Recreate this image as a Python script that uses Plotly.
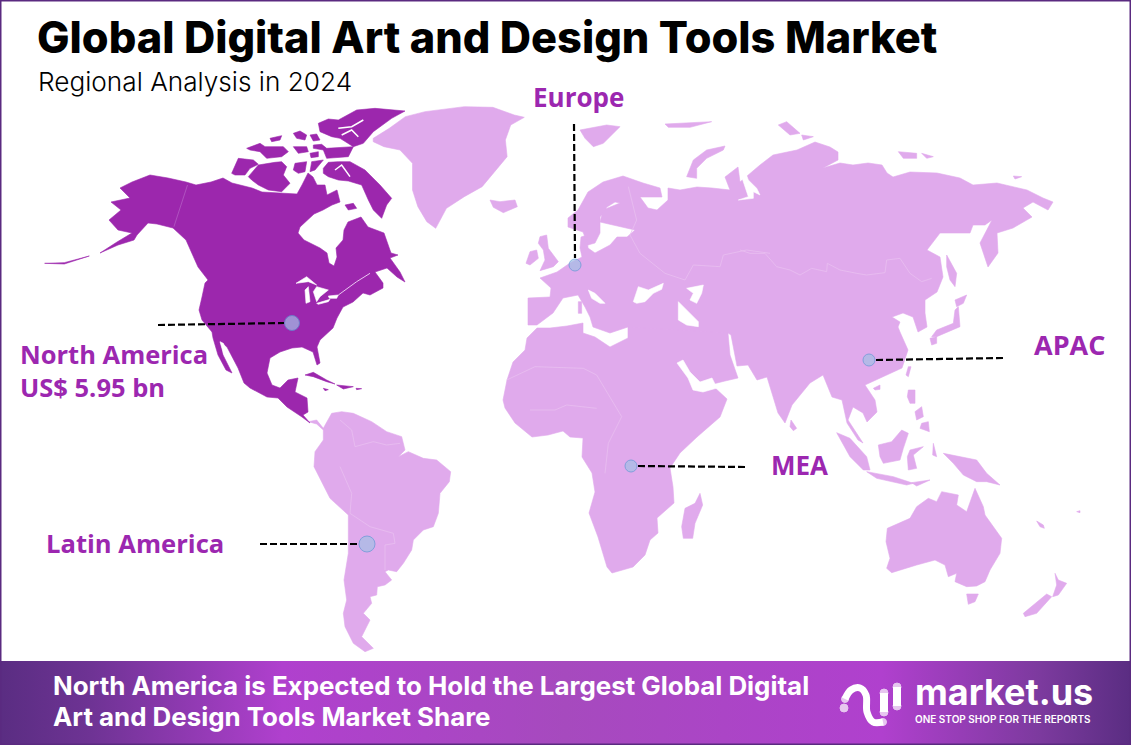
import plotly.graph_objects as go

# Page pixels are the map coordinates: x 0-1131, y 0-745 going down
WIDTH = 1131
HEIGHT = 745

DARK = "#9C27AD"
LIGHT = "#E0AAEC"
BORDER = "#5A2A80"
LABEL = "#9C27B0"

# ----- regions -----
NORTH_AMERICA = [
    (120, 188), (132, 182), (150, 175), (168, 178), (186, 182), (196, 185), (211, 182), (223, 178),
    (232, 183), (252, 188), (262, 192), (282, 193), (297, 194), (302, 185), (308, 173), (313, 177),
    (317, 185), (325, 185), (327, 195), (337, 190), (338, 195), (340, 202), (332, 205), (323, 210),
    (314, 214), (300, 227), (298, 233), (304, 240), (320, 248), (327, 253), (329, 263),
    (334, 266), (337, 257), (336, 248), (343, 240), (344, 230), (348, 222), (361, 217), (368, 227),
    (384, 233), (391, 253), (398, 255), (390, 258), (400, 272), (405, 282), (397, 277), (387, 268),
    (375, 272), (383, 283), (383, 288), (370, 295), (363, 293), (353, 302), (343, 307), (337, 318),
    (333, 328), (320, 340), (317, 347), (320, 363), (317, 365), (313, 352), (302, 347), (292, 348),
    (280, 352), (270, 358), (267, 373), (272, 385), (280, 388), (288, 380), (298, 378), (295, 392),
    (307, 398), (308, 412), (303, 415), (310, 423), (302, 417), (287, 407), (278, 398), (267, 397),
    (250, 388), (244, 383), (238, 368), (227, 347), (221, 342), (223, 355), (232, 373), (226, 370),
    (218, 355), (213, 338), (212, 332), (202, 320), (199, 310), (202, 297), (205, 283), (208, 280),
    (198, 267), (186, 240), (173, 228), (157, 224), (148, 223), (137, 235), (134, 240), (118, 245),
    (100, 253), (117, 242), (132, 233), (118, 230), (109, 220), (121, 210), (111, 202), (130, 198),
]

# traced on the Arctic crop, 3x from (225, 105)
ARCTIC_ISLANDS = [
    [(340, 45), (395, 15), (450, 10), (540, 18), (500, 40), (445, 80), (415, 115), (385, 125), (345, 100), (320, 95),
     (285, 80), (280, 55), (310, 42)],
    [(265, 120), (290, 118), (305, 130), (385, 125), (370, 155), (305, 160), (295, 135), (265, 130)],
    [(205, 85), (225, 78), (245, 90), (240, 105), (215, 100)],
    [(255, 90), (275, 87), (285, 105), (265, 108)],
    [(135, 100), (170, 92), (165, 105), (140, 110)],
    [(65, 130), (105, 115), (120, 125), (150, 125), (175, 125), (190, 140), (170, 155), (125, 160), (105, 140), (75, 135)],
    [(205, 125), (245, 125), (250, 140), (220, 145)],
    [(255, 145), (280, 140), (280, 155), (258, 158)],
    [(20, 205), (40, 160), (85, 165), (100, 178), (75, 190), (60, 210), (30, 210)],
    [(70, 215), (100, 180), (150, 172), (170, 170), (185, 185), (175, 210), (195, 235), (170, 260), (130, 255), (100, 240),
     (80, 225)],
    [(205, 195), (210, 175), (245, 170), (240, 200), (220, 205)],
    [(260, 170), (295, 165), (270, 195), (255, 200)],
    [(295, 190), (310, 172), (340, 170), (375, 170), (420, 195), (465, 240), (500, 280), (485, 300), (470, 340), (445, 315),
     (430, 285), (410, 240), (370, 228), (340, 225), (310, 215), (295, 205)],
    [(360, 300), (385, 295), (395, 310), (370, 315)],
]
ARCTIC_CHANNELS = [
    [(340, 70), (380, 65), (415, 45)],
    [(350, 90), (380, 75), (400, 95)],
    [(330, 195), (350, 180), (375, 215)],
]
ALEUTIANS = [(125, 790), (180, 788), (250, 768), (180, 792)]
# traced on the first crop, which came back 2.8x wide and 3x high
GREENLAND = [
    (1045, 415), (1090, 385), (1135, 350), (1190, 335), (1300, 320), (1380, 322), (1440, 345), (1468, 352),
    (1430, 375), (1415, 420), (1420, 470), (1390, 510), (1350, 560), (1300, 590), (1250, 625), (1220, 685),
    (1195, 665), (1170, 620), (1155, 570), (1155, 490), (1120, 450), (1075, 440), (1045, 425),
]
CARIBBEAN = [
    [(405, 405), (430, 397), (470, 420), (495, 432), (470, 425), (430, 410)],
    [(500, 435), (550, 440), (520, 447)],
    [(460, 445), (475, 449), (465, 452)],
    [(558, 445), (575, 446), (560, 449)],
]
SOUTH_AMERICA = [
    (55, 65), (80, 60), (100, 85), (125, 40), (155, 35), (190, 40), (245, 65), (290, 95), (335, 110), (345, 150),
    (325, 170), (355, 155), (400, 175), (440, 180), (482, 215), (478, 245), (450, 280), (445, 340), (430, 380),
    (400, 390), (370, 420), (365, 450), (340, 490), (320, 515), (295, 510), (285, 515), (305, 540), (285, 555),
    (262, 560), (260, 585), (240, 590), (245, 610), (220, 640), (240, 660), (215, 710), (250, 745), (225, 755),
    (190, 730), (165, 680), (160, 640), (170, 600), (162, 540), (175, 460), (175, 345), (120, 295), (85, 225),
    (72, 200), (75, 155), (100, 120), (100, 90), (80, 72),
]
EURASIA = [
    (528, 325), (528, 298), (550, 297), (551, 288), (540, 278), (557, 272), (570, 263), (582, 257), (580, 248),
    (581, 237), (587, 235), (588, 248), (595, 253), (610, 245), (617, 237), (627, 237), (635, 230), (620, 227),
    (613, 225), (600, 222), (603, 210), (620, 203), (615, 202), (607, 207), (600, 217), (600, 233), (595, 243),
    (588, 245), (583, 232), (568, 227), (568, 218), (578, 210), (588, 192), (603, 182), (623, 176), (643, 183),
    (660, 188), (662, 197), (640, 197), (648, 208), (657, 210), (668, 200), (668, 188), (680, 190), (697, 187),
    (712, 188), (730, 190), (725, 177),
    (738, 167), (740, 182), (760, 165), (773, 155), (797, 150), (815, 142), (830, 147), (838, 152), (838, 160),
    (823, 168), (840, 163), (853, 165), (868, 163), (882, 165), (887, 173), (893, 177), (910, 172), (937, 173),
    (960, 178), (973, 185), (997, 183), (1027, 190), (1043, 198), (1053, 202), (1048, 210), (1033, 202),
    (1023, 208), (1032, 217), (1013, 228), (997, 233), (998, 253), (988, 267), (980, 243), (992, 220), (985, 225),
    (973, 225), (970, 233), (940, 233), (927, 250), (940, 257), (943, 277), (937, 292), (925, 300), (925, 313),
    (927, 327), (918, 332), (913, 317), (903, 313), (892, 317), (900, 322), (898, 327), (900, 332), (908, 350),
    (902, 368), (887, 375), (873, 382), (865, 385), (875, 400), (877, 412), (867, 422), (863, 413), (853, 407),
    (848, 420), (863, 443), (858, 440), (847, 423), (842, 400), (832, 397), (823, 375), (810, 383), (792, 405),
    (785, 423), (778, 413), (767, 377), (757, 380), (748, 365), (737, 366), (731, 335), (728, 333), (628, 327),
    (610, 333), (593, 327), (590, 317), (585, 307), (578, 295), (563, 298), (557, 307), (553, 313), (537, 325),
]
AFRICA_ARABIA = [
    (537, 328), (550, 328), (567, 326), (583, 323), (583, 333), (595, 337), (610, 347), (628, 338),
    (628, 327), (728, 333), (730, 355), (738, 378), (725, 381), (713, 384), (713, 386), (727, 399),
    (720, 417), (708, 427), (697, 437), (680, 453), (670, 468), (673, 487), (674, 503), (657, 518), (658, 533),
    (650, 540), (645, 555), (633, 567), (612, 573), (607, 567), (598, 537), (589, 513), (595, 492), (592, 473),
    (582, 457), (583, 438), (570, 437), (563, 431), (548, 435), (532, 437), (515, 423), (505, 408), (503, 400),
    (507, 380), (513, 362), (525, 350), (527, 338),
]
# traced on the close Europe crop, 3x from (520, 170)
EUROPE_ISLANDS = [
    [(60, 200), (80, 195), (85, 235), (115, 275), (100, 290), (60, 302), (75, 270), (70, 240), (55, 220)],
    [(18, 280), (30, 245), (50, 240), (55, 265), (30, 285)],
    [(175, 395), (185, 395), (185, 430), (175, 430)],
]
# traced on the wider Europe crop, 3x from (490, 120)
NORTH_ATLANTIC_ISLANDS = [
    [(0, 240), (30, 245), (75, 240), (82, 260), (40, 278), (10, 262)],
    [(270, 30), (300, 25), (350, 15), (390, 20), (370, 40), (340, 70), (310, 80), (285, 55)],
    [(525, 12), (590, 8), (665, 5), (600, 22), (535, 22)],
    [(590, 170), (610, 120), (650, 90), (705, 78), (700, 90), (650, 115), (620, 145), (620, 175)],
]
# traced on the north Asia crop, 3x from (740, 110)
NORTH_ASIA_ISLANDS = [
    [(620, 435), (650, 490), (645, 530), (630, 510), (620, 470)],
    [(645, 570), (680, 555), (670, 580), (650, 590)],
    [(655, 590), (660, 650), (590, 680), (575, 680), (590, 660), (640, 640), (645, 600)],
    [(570, 685), (590, 680), (590, 700), (575, 705)],
    [(475, 125), (530, 130), (530, 145), (490, 145)],
    [(545, 130), (580, 140), (560, 145)],
    [(115, 45), (140, 35), (180, 70), (150, 75)],
    [(185, 75), (220, 80), (190, 90)],
    [(820, 198), (845, 200), (825, 207)],
]
# traced on the south east Asia crop, 3x from (710, 300)
SOUTH_ASIA_ISLANDS = [
    [(490, 265), (510, 255), (510, 268), (495, 270)],
    [(595, 200), (603, 200), (595, 230), (588, 225)],
    [(595, 270), (615, 270), (615, 310), (600, 310), (592, 290)],
    [(615, 335), (635, 320), (640, 350), (620, 360)],
    [(635, 370), (655, 365), (658, 395), (630, 385)],
    [(505, 435), (545, 425), (575, 390), (595, 400), (580, 445), (570, 480), (520, 490), (510, 470)],
    [(380, 398), (420, 415), (470, 470), (480, 510), (460, 510), (420, 470)],
    [(470, 515), (550, 530), (610, 550), (590, 555), (500, 535)],
    [(605, 548), (660, 540), (620, 558)],
    [(600, 450), (640, 440), (610, 465), (620, 505), (595, 510), (592, 470)],
    [(670, 430), (680, 470), (668, 465)],
    [(700, 460), (725, 465), (760, 470), (800, 480), (830, 520), (870, 555), (830, 545), (800, 545), (760, 525),
     (730, 490)],
    [(243, 360), (260, 385), (250, 392), (240, 380)],
]
# traced on the Oceania crop, 3x from (860, 470)
OCEANIA = [
    [(78, 215), (82, 175), (150, 145), (170, 110), (205, 85), (230, 95), (245, 65), (295, 75), (290, 105), (320, 125),
     (345, 55), (370, 110), (375, 135), (405, 175), (425, 205), (420, 250), (390, 300), (375, 335), (350, 348),
     (320, 350), (285, 335), (290, 310), (265, 320), (255, 285), (225, 270), (170, 285), (120, 300), (95, 308),
     (80, 295), (90, 265)],
    [(320, 372), (355, 372), (345, 395), (325, 403)],
    [(585, 310), (595, 330), (620, 340), (595, 375), (578, 380), (590, 345)],
    [(560, 372), (575, 380), (530, 430), (495, 440), (490, 430)],
    [(530, 153), (550, 165), (553, 175), (540, 170)],
    [(650, 125), (660, 122), (660, 128)],
]
MADAGASCAR = [(630, 550), (638, 585), (615, 640), (608, 685), (580, 685), (575, 650), (585, 595), (615, 580)]

# water that sits inside the land shapes
GREAT_LAKES = [
    [(378, 130), (410, 110), (440, 135), (415, 125)],
    [(405, 150), (415, 140), (420, 185), (408, 190)],
    [(440, 140), (475, 150), (450, 170), (440, 185), (430, 155)],
    [(440, 190), (480, 178), (475, 185), (445, 193)],
    [(475, 168), (505, 165), (500, 175), (478, 175)],
]
GULF_CALIFORNIA = [(150, 305), (160, 310), (178, 350), (190, 392), (183, 375), (160, 340)]
CLOSE_EUROPE_WATER = [
    [(205, 360), (225, 370), (255, 400), (240, 400), (215, 385)],
    [(340, 395), (355, 350), (385, 360), (430, 340), (425, 358), (400, 370), (375, 395), (350, 400)],
]
INLAND_SEAS = [
    [(565, 545), (590, 570), (625, 605), (625, 620), (590, 615), (565, 600)],
    [(590, 505), (640, 495), (635, 520), (620, 550), (600, 540), (610, 520)],
    [(745, 240), (775, 230), (755, 170), (750, 140), (760, 140), (775, 180), (800, 205), (810, 225), (790, 215),
     (790, 235)],
]
RED_SEA = [(677, 363), (683, 360), (690, 372), (700, 382), (712, 378), (717, 388), (703, 392), (693, 390), (688, 378)]

# pale country lines
RUSSIA_LINE = [
    (0, 420), (30, 430), (75, 430), (110, 470), (150, 480), (180, 495), (215, 475), (260, 485), (262, 460), (300, 480),
    (350, 490), (380, 495), (435, 488), (440, 450), (480, 445), (510, 490), (545, 515), (575, 505),
]
WEST_RUSSIA_LINE = [(415, 200), (440, 300), (420, 345), (450, 400), (525, 460), (585, 480), (610, 435), (690, 440),
                    (700, 405), (770, 390), (840, 400)]
ANDES_LINE = [(150, 200), (185, 280), (180, 340), (240, 380), (310, 400), (315, 430), (285, 435), (285, 510)]
AMAZON_LINE = [(150, 60), (185, 90), (195, 140), (250, 125), (290, 135), (330, 130)]
SAHARA_LINE = [(50, 210), (135, 170), (280, 175), (320, 195), (395, 320), (355, 400), (345, 490)]
SAHEL_LINE = [(120, 300), (195, 300), (230, 285), (320, 295)]
ALASKA_LINE = [(525, 555), (487, 680)]
ST_LAWRENCE = [(505, 165), (560, 125), (600, 100)]

# ----- callouts -----
REGIONS = ["North America", "Europe", "APAC", "MEA", "Latin America"]
DOT_X = [292, 575, 869, 631, 367]
DOT_Y = [323, 265, 360, 466, 544]
DOT_SIZE = [15, 12, 12, 12, 16]
LEADER_X = [[158, 284], [574, 575], [876, 1003], [638, 746], [260, 359]]
LEADER_Y = [[325, 323], [124, 258], [360, 358], [466, 467], [544, 544]]

TITLE = "Global Digital Art and Design Tools Market"
SUBTITLE = "Regional Analysis in 2024"
FOOTER_TEXT = "North America is Expected to Hold the Largest Global Digital"
FOOTER_TEXT_2 = "Art and Design Tools Market Share"


def from_crop(points, x0, y0, sx=3.0, sy=3.0):
    # crops were read at their own scale, bring them back to page pixels
    return [(x0 + x / sx, y0 + y / sy) for x, y in points]


def add_shapes(fig, polys, color, fill=True, width=0.6):
    xs, ys = [], []
    for poly in polys:
        pts = list(poly)
        if fill:
            pts.append(pts[0])
        xs += [p[0] for p in pts] + [None]
        ys += [p[1] for p in pts] + [None]
    fig.add_trace(go.Scatter(
        x=xs, y=ys, mode="lines", line=dict(color=color, width=width),
        fill="toself" if fill else None, fillcolor=color if fill else None, hoverinfo="skip",
    ))


def add_label(fig, x, y, text, size, color, weight=700, family="Open Sans"):
    fig.add_annotation(
        x=x, y=y, text=text, showarrow=False, xanchor="left", yanchor="middle", align="left",
        font=dict(family=family, size=size, color=color, weight=weight),
    )


fig = go.Figure()

# footer band
fig.add_trace(go.Scatter(
    x=[0, WIDTH, WIDTH, 0, 0], y=[661, 661, HEIGHT, HEIGHT, 661], mode="lines", line=dict(width=0),
    fill="toself", hoverinfo="skip",
    fillgradient=dict(type="horizontal", colorscale=[
        [0.0, "#5A2D82"], [0.08, "#6E3394"], [0.25, "#B040CE"], [0.5, "#A64ABE"], [0.78, "#B040CE"],
        [0.92, "#7C3A9E"], [1.0, "#5A2D82"],
    ]),
))

light = [from_crop(GREENLAND, 0, 0, sx=2.8), EURASIA, AFRICA_ARABIA,
         from_crop(SOUTH_AMERICA, 290, 400), from_crop(MADAGASCAR, 490, 310)]
light += [from_crop(p, 520, 170) for p in EUROPE_ISLANDS]
light += [from_crop(p, 490, 120) for p in NORTH_ATLANTIC_ISLANDS]
light += [from_crop(p, 740, 110) for p in NORTH_ASIA_ISLANDS]
light += [from_crop(p, 710, 300) for p in SOUTH_ASIA_ISLANDS]
light += [from_crop(p, 860, 470) for p in OCEANIA]
add_shapes(fig, light, LIGHT)

dark = [NORTH_AMERICA, from_crop(ALEUTIANS, 0, 0, sx=2.8)]
dark += [from_crop(p, 225, 105) for p in ARCTIC_ISLANDS]
dark += [from_crop(p, 170, 240) for p in CARIBBEAN]
add_shapes(fig, dark, DARK)

water = [from_crop(p, 170, 240) for p in GREAT_LAKES]
water += [from_crop(GULF_CALIFORNIA, 170, 240), RED_SEA]
water += [from_crop(p, 520, 170) for p in CLOSE_EUROPE_WATER]
water += [from_crop(p, 490, 120) for p in INLAND_SEAS]
add_shapes(fig, water, "white")
add_shapes(fig, [from_crop(p, 225, 105) for p in ARCTIC_CHANNELS], "white", fill=False, width=1.5)

add_shapes(fig, [from_crop(RUSSIA_LINE, 740, 110), from_crop(WEST_RUSSIA_LINE, 490, 120),
                 from_crop(ANDES_LINE, 290, 400), from_crop(AMAZON_LINE, 290, 400),
                 from_crop(SAHARA_LINE, 490, 310), from_crop(SAHEL_LINE, 490, 310)],
           "#E8BFF0", fill=False, width=0.8)
add_shapes(fig, [from_crop(ALASKA_LINE, 0, 0, sx=2.8)], "#B45CC4", fill=False, width=0.8)
add_shapes(fig, [from_crop(ST_LAWRENCE, 170, 240)], "#E9C6F0", fill=False, width=1)

# leader lines and dots
for lx, ly in zip(LEADER_X, LEADER_Y):
    fig.add_trace(go.Scatter(x=lx, y=ly, mode="lines", hoverinfo="skip",
                             line=dict(color="black", width=2.2, dash="7px,3px")))
fig.add_trace(go.Scatter(
    x=DOT_X, y=DOT_Y, mode="markers", text=REGIONS, hoverinfo="text",
    marker=dict(size=DOT_SIZE, color="#A3C0E6", line=dict(color="#5B9BD5", width=1)),
))

# market.us logo mark
fig.add_trace(go.Scatter(
    x=[845, 851, 860, 866, 867, 873, 883], y=[699, 690, 688, 695, 712, 722, 722], mode="lines",
    line=dict(color="white", width=7, shape="spline"), hoverinfo="skip",
))
fig.add_trace(go.Scatter(x=[884, 884, None, 897, 897], y=[693, 712, None, 687, 706], mode="lines",
                         line=dict(color="white", width=8), hoverinfo="skip"))
fig.add_trace(go.Scatter(
    x=[844, 884, 884, 897, 897, 845, 883], y=[708, 693, 712, 687, 706, 699, 722], mode="markers",
    marker=dict(color="white", size=[8, 8, 8, 8, 8, 7, 7]), hoverinfo="skip",
))

# titles
add_label(fig, 35, 37, TITLE, 43.3, "black", family="Inter", weight=800)
add_label(fig, 36, 81, SUBTITLE, 26.2, "black", family="Inter", weight=300)

# region labels
add_label(fig, 531, 97, "Europe", 26, LABEL)
add_label(fig, 1032, 344, "APAC", 27, LABEL)
add_label(fig, 769, 465, "MEA", 26, LABEL)
add_label(fig, 44, 543, "Latin America", 25.6, LABEL)
add_label(fig, 18, 370, "North America<br>US$ 5.95 bn", 25.5, LABEL)

# footer
add_label(fig, 51, 685, FOOTER_TEXT, 25.9, "white", family="Inter", weight=700)
add_label(fig, 51, 716.5, FOOTER_TEXT_2, 25.9, "white", family="Inter", weight=700)
add_label(fig, 913, 692, "market.us", 36, "white", family="Inter", weight=700)
add_label(fig, 913, 719, "ONE STOP SHOP FOR THE REPORTS", 10, "white", family="Inter", weight=600)

fig.update_layout(
    width=WIDTH, height=HEIGHT, margin=dict(l=0, r=0, t=0, b=0), showlegend=False,
    paper_bgcolor="white", plot_bgcolor="white",
    xaxis=dict(range=[0, WIDTH], visible=False, fixedrange=True),
    yaxis=dict(range=[HEIGHT, 0], visible=False, fixedrange=True),
    shapes=[dict(type="rect", xref="paper", yref="paper", x0=0, x1=1, y0=0, y1=1,
                 line=dict(color=BORDER, width=3))],
)

# the page keeps the browser's default margin otherwise
fig.write_html("out.html", config={"displayModeBar": False}, post_script="document.body.style.margin='0';")
